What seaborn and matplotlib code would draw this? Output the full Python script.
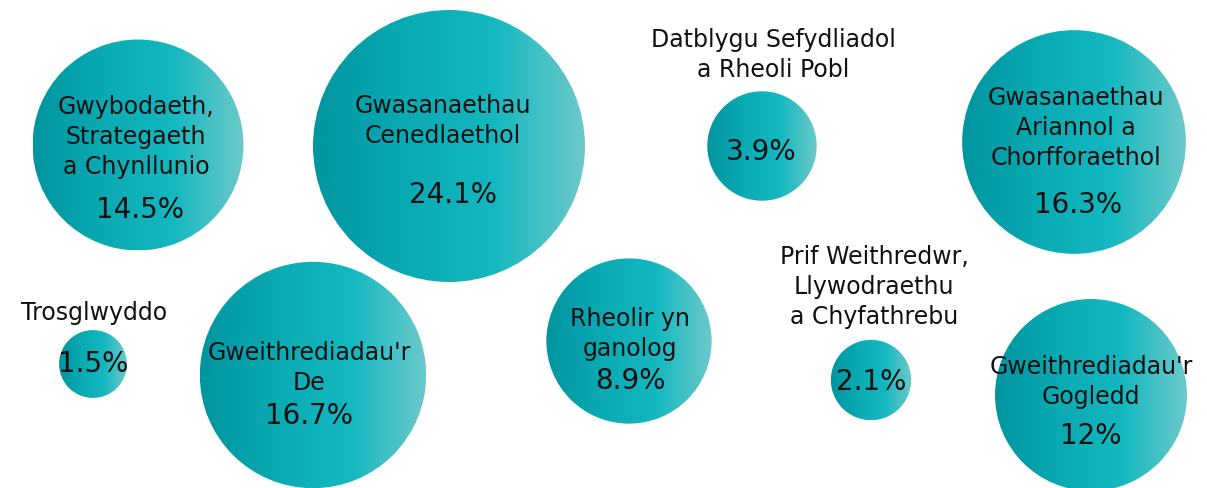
import numpy as np
import seaborn as sns
import matplotlib.pyplot as plt
from matplotlib.patches import Circle

# data
labels = [
    "Gwybodaeth,\nStrategaeth\na Chynllunio",
    "Gwasanaethau\nCenedlaethol",
    "Datblygu Sefydliadol\na Rheoli Pobl",
    "Gwasanaethau\nAriannol a\nChorfforaethol",
    "Trosglwyddo",
    "Gweithrediadau'r\nDe",
    "Rheolir yn\nganolog",
    "Prif Weithredwr,\nLlywodraethu\na Chyfathrebu",
    "Gweithrediadau'r\nGogledd",
]
values = [14.5, 24.1, 3.9, 16.3, 1.5, 16.7, 8.9, 2.1, 12]
pct_labels = ["14.5%", "24.1%", "3.9%", "16.3%", "1.5%", "16.7%", "8.9%", "2.1%", "12%"]

# bubble layout (pixel space of the picture)
bubble_x = [138, 449, 762, 1074, 93, 313, 629, 871, 1091]
bubble_y = [146, 147, 147, 143, 365, 376, 342, 381, 396]
label_x = [136, 443, 773, 1076, 94, 309, 630, 874, 1091]
label_y = [137, 121, 55, 128, 313, 368, 334, 287, 382]
pct_x = [140, 453, 761, 1078, 93, 309, 630, 871, 1091]
pct_y = [210, 195, 152, 205, 364, 416, 381, 382, 436]

W, H = 1207, 489
scale = 27.7  # radius = scale * sqrt(value)

sns.set_theme(style="white")
plt.rcParams['font.family'] = ['DejaVu Sans']

fig = plt.figure(figsize=(W / 100, H / 100), dpi=100)
ax = fig.add_axes([0, 0, 1, 1])
ax.set_xlim(0, W)
ax.set_ylim(H, 0)
ax.set_aspect('equal')
ax.axis('off')

cmap = sns.blend_palette(["#00959f", "#0aaab3", "#14b8c0", "#6cc9ca"], as_cmap=True)
grad = np.linspace(0, 1, 256).reshape(1, -1)

for x, y, v in zip(bubble_x, bubble_y, values):
    r = scale * np.sqrt(v)
    circ = Circle((x, y), r, facecolor='none', edgecolor='none')
    ax.add_patch(circ)
    im = ax.imshow(grad, cmap=cmap, extent=[x - r, x + r, y + r, y - r],
                   aspect='auto', interpolation='bilinear', zorder=1)
    im.set_clip_path(circ)

for lab, lx, ly in zip(labels, label_x, label_y):
    ax.text(lx, ly, lab, ha='center', va='center', multialignment='center',
            fontsize=17, color='#111111', linespacing=1.29, zorder=3)

for p, px, py in zip(pct_labels, pct_x, pct_y):
    ax.text(px, py, p, ha='center', va='center', fontsize=20,
            color='#111111', zorder=3)

ax.set_xlim(0, W)
ax.set_ylim(H, 0)
fig.savefig('out.png', dpi=100)
